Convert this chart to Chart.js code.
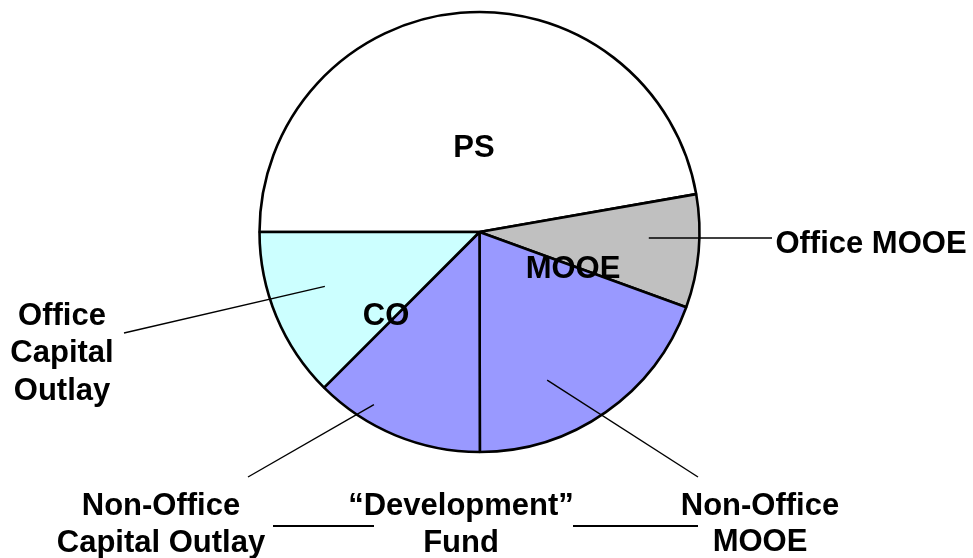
<!DOCTYPE html>
<html>
<head>
<meta charset="utf-8">
<script src="https://cdn.jsdelivr.net/npm/chart.js@4.4.1/dist/chart.umd.min.js"></script>
<style>
  html, body { margin: 0; padding: 0; background: #fff; }
  #wrap { width: 973px; height: 558px; position: relative; }
</style>
</head>
<body>
<div id="wrap"><canvas id="pastel"></canvas></div>
<script>
// budget split (percent of the whole)
const categories = ['PS', 'Office MOOE', 'Non-Office MOOE', 'Non-Office Capital Outlay', 'Office Capital Outlay'];
const shares = [47.2, 8.3, 19.4, 12.5, 12.5];
const sliceColours = ['#FFFFFF', '#C0C0C0', '#9999FF', '#9999FF', '#CCFFFF'];

// text inside the pie
const innerLabels = [
    { text: 'PS', x: 474, y: 157 },
    { text: 'MOOE', x: 573, y: 278 },
    { text: 'CO', x: 386, y: 325 }
];

// outside labels with a leader line to their slice
// (slice = index in categories, at = fraction of the slice angle, r = fraction of radius)
const callouts = [
    { slice: 1, at: 0.40, r: 0.77, end: [772, 238], lines: ['Office MOOE'], x: 871, y: [253] },
    { slice: 4, at: 0.57, r: 0.745, end: [124, 333], lines: ['Office', 'Capital', 'Outlay'], x: 62, y: [325, 362, 400] },
    { slice: 3, at: 0.70, r: 0.92, end: [248, 477], lines: ['Non-Office', 'Capital Outlay'], x: 161, y: [515, 552] },
    { slice: 2, at: 0.65, r: 0.74, end: [698, 477], lines: ['Non-Office', 'MOOE'], x: 760, y: [515, 551] }
];
const fundLabel = { lines: ['\u201CDevelopment\u201D', 'Fund'], x: 461, y: [515, 552] };

const labelFont = 'bold 31px "Liberation Sans", Arial, sans-serif';

const etiquetas = {
    id: 'etiquetas',
    afterDraw(chart) {
        const ctx = chart.ctx;
        const arcs = chart.getDatasetMeta(0).data;
        ctx.save();
        ctx.strokeStyle = '#000';
        ctx.fillStyle = '#000';

        // leader lines
        ctx.lineWidth = 1.4;
        callouts.forEach(function (c) {
            const a = arcs[c.slice];
            const ang = a.startAngle + c.at * (a.endAngle - a.startAngle);
            const rad = a.outerRadius * c.r;
            ctx.beginPath();
            ctx.moveTo(a.x + Math.cos(ang) * rad, a.y + Math.sin(ang) * rad);
            ctx.lineTo(c.end[0], c.end[1]);
            ctx.stroke();
        });

        // bracket lines for the development fund
        ctx.lineWidth = 2;
        ctx.beginPath();
        ctx.moveTo(273, 526); ctx.lineTo(374, 526);
        ctx.moveTo(573, 526); ctx.lineTo(698, 526);
        ctx.stroke();

        ctx.font = labelFont;
        ctx.textAlign = 'center';
        ctx.textBaseline = 'alphabetic';
        innerLabels.forEach(function (l) { ctx.fillText(l.text, l.x, l.y); });
        callouts.forEach(function (c) {
            c.lines.forEach(function (t, i) { ctx.fillText(t, c.x, c.y[i]); });
        });
        fundLabel.lines.forEach(function (t, i) { ctx.fillText(t, fundLabel.x, fundLabel.y[i]); });
        ctx.restore();
    }
};

const ctx = document.getElementById('pastel').getContext('2d');
new Chart(ctx, {
    type: 'pie',
    data: {
        labels: categories,
        datasets: [{
            data: shares,
            backgroundColor: sliceColours,
            borderColor: '#000',
            borderWidth: 2.6
        }]
    },
    options: {
        responsive: true,
        maintainAspectRatio: false,
        animation: false,
        rotation: 270,
        radius: 220,
        layout: { padding: { left: 0, right: 14, top: 0, bottom: 94 } },
        plugins: {
            legend: { display: false },
            tooltip: { enabled: false }
        }
    },
    plugins: [etiquetas]
});
</script>
</body>
</html>
